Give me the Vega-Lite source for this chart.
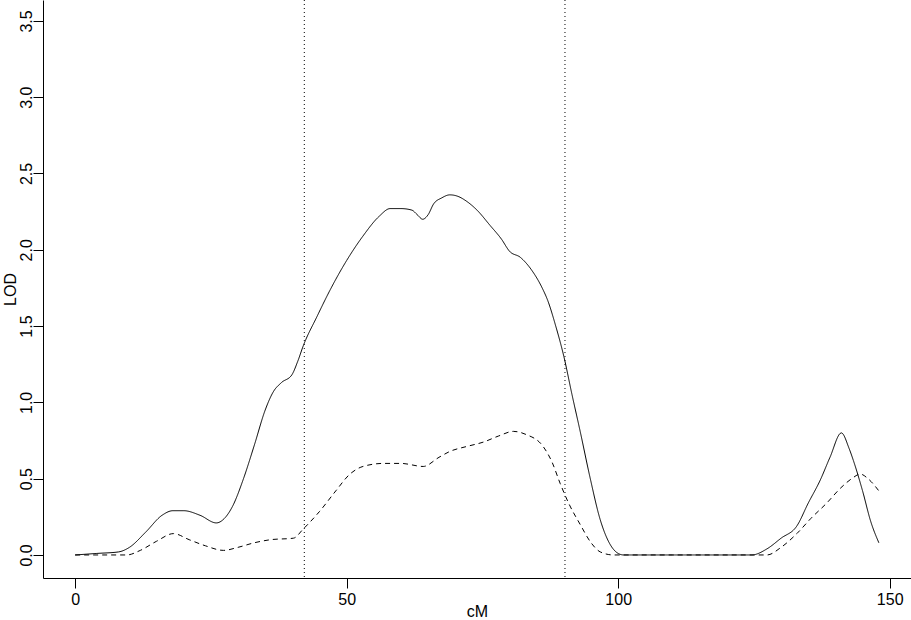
{
  "$schema": "https://vega.github.io/schema/vega-lite/v6.json",
  "width": 868,
  "height": 578,
  "autosize": {"type": "none"},
  "padding": {"left": 43, "top": 0, "right": 0, "bottom": 42},
  "background": "white",
  "config": {
    "view": {"stroke": null},
    "font": "Liberation Sans",
    "axis": {
      "grid": false,
      "domainColor": "black",
      "domainWidth": 1,
      "tickColor": "black",
      "tickWidth": 1,
      "tickSize": 10,
      "labelColor": "black",
      "titleColor": "black",
      "labelFont": "Liberation Sans",
      "titleFont": "Liberation Sans",
      "labelFontSize": 16,
      "titleFontSize": 16,
      "titleFontWeight": "normal"
    }
  },
  "datasets": {
    "profiles": [
      {"cM": 0, "lod": 0, "type": "solid"},
      {"cM": 4, "lod": 0.01, "type": "solid"},
      {"cM": 8, "lod": 0.02, "type": "solid"},
      {"cM": 10, "lod": 0.05, "type": "solid"},
      {"cM": 13, "lod": 0.15, "type": "solid"},
      {"cM": 16, "lod": 0.26, "type": "solid"},
      {"cM": 18, "lod": 0.29, "type": "solid"},
      {"cM": 20, "lod": 0.29, "type": "solid"},
      {"cM": 23, "lod": 0.26, "type": "solid"},
      {"cM": 26, "lod": 0.21, "type": "solid"},
      {"cM": 27.5, "lod": 0.24, "type": "solid"},
      {"cM": 29, "lod": 0.32, "type": "solid"},
      {"cM": 31, "lod": 0.5, "type": "solid"},
      {"cM": 33, "lod": 0.72, "type": "solid"},
      {"cM": 35, "lod": 0.95, "type": "solid"},
      {"cM": 36.5, "lod": 1.07, "type": "solid"},
      {"cM": 38, "lod": 1.13, "type": "solid"},
      {"cM": 39.9, "lod": 1.18, "type": "solid"},
      {"cM": 41, "lod": 1.27, "type": "solid"},
      {"cM": 42, "lod": 1.37, "type": "solid"},
      {"cM": 44.5, "lod": 1.56, "type": "solid"},
      {"cM": 47, "lod": 1.74, "type": "solid"},
      {"cM": 50, "lod": 1.93, "type": "solid"},
      {"cM": 53, "lod": 2.09, "type": "solid"},
      {"cM": 56, "lod": 2.22, "type": "solid"},
      {"cM": 58, "lod": 2.27, "type": "solid"},
      {"cM": 60, "lod": 2.27, "type": "solid"},
      {"cM": 62, "lod": 2.26, "type": "solid"},
      {"cM": 63, "lod": 2.23, "type": "solid"},
      {"cM": 64, "lod": 2.2, "type": "solid"},
      {"cM": 65, "lod": 2.23, "type": "solid"},
      {"cM": 66, "lod": 2.3, "type": "solid"},
      {"cM": 67.5, "lod": 2.34, "type": "solid"},
      {"cM": 69, "lod": 2.36, "type": "solid"},
      {"cM": 70.5, "lod": 2.35, "type": "solid"},
      {"cM": 72, "lod": 2.32, "type": "solid"},
      {"cM": 74, "lod": 2.26, "type": "solid"},
      {"cM": 76.4, "lod": 2.16, "type": "solid"},
      {"cM": 78.5, "lod": 2.07, "type": "solid"},
      {"cM": 80, "lod": 1.99, "type": "solid"},
      {"cM": 82, "lod": 1.95, "type": "solid"},
      {"cM": 84, "lod": 1.87, "type": "solid"},
      {"cM": 86, "lod": 1.75, "type": "solid"},
      {"cM": 87, "lod": 1.67, "type": "solid"},
      {"cM": 88.5, "lod": 1.5, "type": "solid"},
      {"cM": 90, "lod": 1.3, "type": "solid"},
      {"cM": 91.5, "lod": 1.05, "type": "solid"},
      {"cM": 93, "lod": 0.81, "type": "solid"},
      {"cM": 94.8, "lod": 0.51, "type": "solid"},
      {"cM": 96.7, "lod": 0.23, "type": "solid"},
      {"cM": 98.5, "lod": 0.07, "type": "solid"},
      {"cM": 100, "lod": 0.01, "type": "solid"},
      {"cM": 101, "lod": 0, "type": "solid"},
      {"cM": 110, "lod": 0, "type": "solid"},
      {"cM": 120, "lod": 0, "type": "solid"},
      {"cM": 124.6, "lod": 0, "type": "solid"},
      {"cM": 127.4, "lod": 0.04, "type": "solid"},
      {"cM": 130, "lod": 0.11, "type": "solid"},
      {"cM": 132.9, "lod": 0.19, "type": "solid"},
      {"cM": 135, "lod": 0.34, "type": "solid"},
      {"cM": 137.2, "lod": 0.49, "type": "solid"},
      {"cM": 139, "lod": 0.64, "type": "solid"},
      {"cM": 141.1, "lod": 0.8, "type": "solid"},
      {"cM": 142.5, "lod": 0.7, "type": "solid"},
      {"cM": 143.3, "lod": 0.62, "type": "solid"},
      {"cM": 145, "lod": 0.42, "type": "solid"},
      {"cM": 146.5, "lod": 0.22, "type": "solid"},
      {"cM": 148, "lod": 0.08, "type": "solid"},
      {"cM": 0, "lod": 0, "type": "dashed"},
      {"cM": 5, "lod": 0, "type": "dashed"},
      {"cM": 9.5, "lod": 0, "type": "dashed"},
      {"cM": 12, "lod": 0.03, "type": "dashed"},
      {"cM": 15, "lod": 0.09, "type": "dashed"},
      {"cM": 18.1, "lod": 0.14, "type": "dashed"},
      {"cM": 21, "lod": 0.1, "type": "dashed"},
      {"cM": 24, "lod": 0.06, "type": "dashed"},
      {"cM": 27.3, "lod": 0.03, "type": "dashed"},
      {"cM": 30, "lod": 0.05, "type": "dashed"},
      {"cM": 33, "lod": 0.08, "type": "dashed"},
      {"cM": 36, "lod": 0.1, "type": "dashed"},
      {"cM": 40.2, "lod": 0.11, "type": "dashed"},
      {"cM": 42, "lod": 0.17, "type": "dashed"},
      {"cM": 45, "lod": 0.285, "type": "dashed"},
      {"cM": 48, "lod": 0.42, "type": "dashed"},
      {"cM": 50.6, "lod": 0.53, "type": "dashed"},
      {"cM": 53, "lod": 0.58, "type": "dashed"},
      {"cM": 56.8, "lod": 0.6, "type": "dashed"},
      {"cM": 60, "lod": 0.6, "type": "dashed"},
      {"cM": 64.1, "lod": 0.58, "type": "dashed"},
      {"cM": 67, "lod": 0.64, "type": "dashed"},
      {"cM": 69.1, "lod": 0.68, "type": "dashed"},
      {"cM": 72, "lod": 0.71, "type": "dashed"},
      {"cM": 75.2, "lod": 0.74, "type": "dashed"},
      {"cM": 78, "lod": 0.78, "type": "dashed"},
      {"cM": 80.7, "lod": 0.81, "type": "dashed"},
      {"cM": 83, "lod": 0.79, "type": "dashed"},
      {"cM": 86.2, "lod": 0.71, "type": "dashed"},
      {"cM": 87.8, "lod": 0.61, "type": "dashed"},
      {"cM": 89.3, "lod": 0.47, "type": "dashed"},
      {"cM": 91, "lod": 0.33, "type": "dashed"},
      {"cM": 93, "lod": 0.2, "type": "dashed"},
      {"cM": 95, "lod": 0.08, "type": "dashed"},
      {"cM": 96.7, "lod": 0.02, "type": "dashed"},
      {"cM": 99.1, "lod": 0, "type": "dashed"},
      {"cM": 110, "lod": 0, "type": "dashed"},
      {"cM": 127.4, "lod": 0, "type": "dashed"},
      {"cM": 130, "lod": 0.05, "type": "dashed"},
      {"cM": 132.9, "lod": 0.14, "type": "dashed"},
      {"cM": 135.5, "lod": 0.24, "type": "dashed"},
      {"cM": 138.4, "lod": 0.34, "type": "dashed"},
      {"cM": 141, "lod": 0.44, "type": "dashed"},
      {"cM": 143, "lod": 0.5, "type": "dashed"},
      {"cM": 144.6, "lod": 0.53, "type": "dashed"},
      {"cM": 146, "lod": 0.5, "type": "dashed"},
      {"cM": 148, "lod": 0.42, "type": "dashed"}
    ],
    "markers": [
      {"cM": 42.2},
      {"cM": 90.2}
    ]
  },
  "layer": [
    {
      "data": {"name": "markers"},
      "mark": {"type": "rule", "color": "black", "strokeWidth": 1, "strokeDash": [1, 3]},
      "encoding": {
        "x": {"field": "cM", "type": "quantitative", "scale": {"domain": [-5.92, 153.92], "nice": false, "zero": false}}
      }
    },
    {
      "data": {"name": "profiles"},
      "mark": {"type": "line", "color": "black", "strokeWidth": 1, "interpolate": "monotone"},
      "encoding": {
        "x": {
          "field": "cM", "type": "quantitative",
          "scale": {"domain": [-5.92, 153.92], "nice": false, "zero": false},
          "axis": {"values": [0, 50, 100, 150], "title": "cM", "labelPadding": 3, "titleY": 38, "titleBaseline": "alphabetic", "labelFlush": false}
        },
        "y": {
          "field": "lod", "type": "quantitative",
          "scale": {"domain": [-0.151, 3.637], "nice": false, "zero": false},
          "axis": {
            "values": [0, 0.5, 1, 1.5, 2, 2.5, 3, 3.5],
            "format": ".1f",
            "title": "LOD",
            "labelAngle": -90,
            "labelAlign": "center",
            "labelBaseline": "alphabetic",
            "labelPadding": 2,
            "labelFlush": false,
            "labelOverlap": false,
            "titleAngle": 270,
            "titleX": -28,
            "titleY": 289,
            "titleAlign": "center",
            "titleBaseline": "alphabetic"
          }
        },
        "detail": {"field": "type"},
        "strokeDash": {
          "field": "type", "type": "nominal",
          "scale": {"domain": ["solid", "dashed"], "range": [[1, 0], [5, 4]]},
          "legend": null
        }
      }
    }
  ]
}
